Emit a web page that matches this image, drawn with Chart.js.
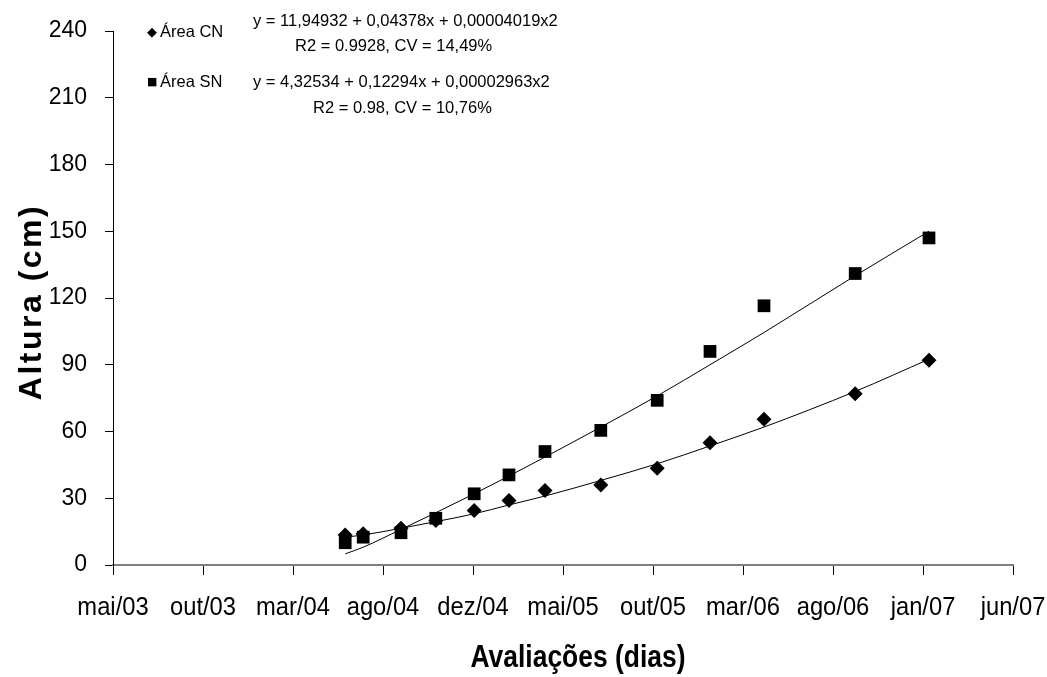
<!DOCTYPE html>
<html lang="pt">
<head>
<meta charset="utf-8">
<script src="https://cdn.jsdelivr.net/npm/chart.js@4.4.1/dist/chart.umd.min.js"></script>
<style>
  html, body { margin: 0; padding: 0; background: #fff; }
  #wrap { width: 1047px; height: 677px; }
</style>
</head>
<body>
<div id="wrap"><canvas id="chart" width="1047" height="677"></canvas></div>
<script>
// eixo x em dias a partir de mai/03, marcas a cada 150 dias
const tickLabels = ["mai/03", "out/03", "mar/04", "ago/04", "dez/04", "mai/05", "out/05", "mar/06", "ago/06", "jan/07", "jun/07"];
const evalDays = [387, 417, 480, 538, 602, 660, 720, 813, 907, 995, 1085, 1237, 1360];
const alturaCN = [13.5, 14, 16.5, 20, 24.5, 29, 33.5, 36, 43.5, 55, 65.5, 77, 92];
const alturaSN = [10, 12.5, 14.5, 21, 32, 40.5, 51, 60.5, 74, 96, 116.5, 131, 147];
// linhas de tendencia
const trendCN = [12.5, 13.5, 16.5, 19.5, 23, 27, 31, 38, 45.5, 53.5, 62, 78, 92.5];
const trendSN = [5, 8, 16, 23.5, 32, 40, 48.5, 62, 76, 90, 104.5, 130, 150];

const legendRows = [
  { marker: "\u25C6", label: "Área CN", eq: "y = 11,94932 + 0,04378x + 0,00004019x2", r2: "R2 = 0.9928, CV = 14,49%" },
  { marker: "\u25A0", label: "Área SN", eq: "y = 4,32534 + 0,12294x + 0,00002963x2", r2: "R2 = 0.98, CV = 10,76%" }
];

function toPoints(xs, ys) {
  return xs.map((x, i) => ({ x, y: ys[i] }));
}

const textPlugin = {
  id: "texts",
  afterDraw(chart) {
    const ctx = chart.ctx;
    const xScale = chart.scales.x;
    ctx.save();
    ctx.fillStyle = "#000";

    // rotulos do eixo x (fonte estreita)
    ctx.font = '25px "Liberation Sans", Arial';
    ctx.textAlign = "center";
    ctx.textBaseline = "alphabetic";
    tickLabels.forEach((label, i) => {
      const w = ctx.measureText(label).width * 0.95;
      ctx.fillText(label, xScale.getPixelForValue(i * 150), 615, w);
    });

    // titulo x
    ctx.font = 'bold 32px "Liberation Sans", Arial';
    ctx.fillText("Avaliações (dias)", 578, 667, 215);

    // titulo y
    ctx.save();
    ctx.translate(41, 302);
    ctx.rotate(-Math.PI / 2);
    ctx.letterSpacing = "2.5px";
    ctx.font = 'bold 32px "Liberation Sans", Arial';
    ctx.fillText("Altura (cm)", 0, 0);
    ctx.restore();

    // legenda com equacoes
    ctx.textAlign = "left";
    const rows = [
      { base: 37, eqBase: 26, r2Base: 51, r2x: 295, eqW: 307, r2W: 218 },
      { base: 87, eqBase: 87, r2Base: 113, r2x: 313, eqW: 302, r2W: 184 }
    ];
    legendRows.forEach((row, i) => {
      const r = rows[i];
      ctx.font = (i === 0 ? "13px" : "11px") + ' "DejaVu Sans"';
      ctx.fillText(row.marker, 147, r.base - (i === 0 ? 1 : 2));
      ctx.font = '16.5px "Liberation Sans", Arial';
      ctx.fillText(row.label, 160, r.base, 65);
      ctx.fillText(row.eq, 253, r.eqBase, r.eqW);
      ctx.fillText(row.r2, r.r2x, r.r2Base, r.r2W);
    });
    ctx.restore();
  }
};

const chartEl = document.getElementById("chart");

const chart = new Chart(chartEl, {
  type: "scatter",
  data: {
    datasets: [
      {
        label: "Área SN",
        data: toPoints(evalDays, alturaSN),
        pointStyle: "rect",
        pointRadius: 9,
        pointBackgroundColor: "#000",
        pointBorderColor: "#000",
        pointBorderWidth: 0,
        showLine: false
      },
      {
        label: "Área CN",
        data: toPoints(evalDays, alturaCN),
        pointStyle: "rectRot",
        pointRadius: 7.5,
        pointBackgroundColor: "#000",
        pointBorderColor: "#000",
        pointBorderWidth: 0,
        showLine: false
      },
      {
        label: "tendência SN",
        data: toPoints(evalDays, trendSN),
        showLine: true,
        borderColor: "#000",
        borderWidth: 1,
        pointRadius: 0,
        cubicInterpolationMode: "monotone"
      },
      {
        label: "tendência CN",
        data: toPoints(evalDays, trendCN),
        showLine: true,
        borderColor: "#000",
        borderWidth: 1,
        pointRadius: 0,
        cubicInterpolationMode: "monotone"
      }
    ]
  },
  options: {
    responsive: false,
    animation: false,
    layout: { padding: { top: 31, right: 34, bottom: 0, left: 0 } },
    plugins: {
      legend: { display: false },
      tooltip: { enabled: false }
    },
    scales: {
      x: {
        type: "linear",
        min: 0,
        max: 1500,
        ticks: { stepSize: 150, display: false },
        grid: { drawOnChartArea: false, drawTicks: true, tickLength: 10, color: "#000" },
        border: { color: "#808080", width: 2 },
        afterFit(s) {
          s.height = 112;
          s.paddingLeft = 0;
          s.paddingRight = 0;
        }
      },
      y: {
        min: 0,
        max: 240,
        ticks: {
          stepSize: 30,
          padding: 18,
          color: "#000",
          font: { family: '"Liberation Sans", Arial', size: 23 }
        },
        grid: { drawOnChartArea: false, drawTicks: true, tickLength: 8, color: "#000" },
        border: { color: "#000", width: 1 },
        afterFit(s) {
          s.width = 113;
          s.paddingTop = 0;
          s.paddingBottom = 0;
        }
      }
    }
  },
  plugins: [textPlugin]
});
</script>
</body>
</html>
